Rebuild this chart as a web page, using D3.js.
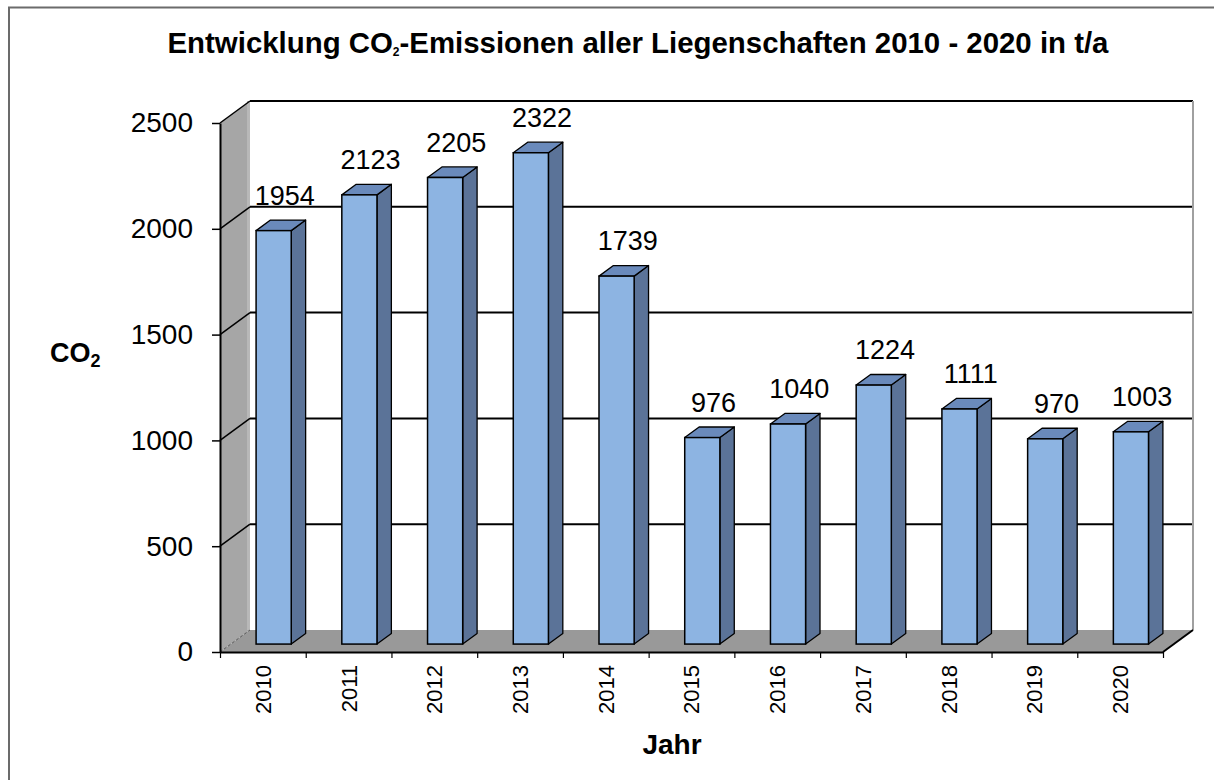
<!DOCTYPE html>
<html>
<head>
<meta charset="utf-8">
<script src="https://cdn.jsdelivr.net/npm/d3@7"></script>
<style>
  html, body { margin: 0; padding: 0; background: #ffffff; }
  svg { display: block; font-family: "Liberation Sans", Arial, sans-serif; }
</style>
</head>
<body>
<svg id="chart" width="1214" height="780"></svg>
<script>
// Data
const years = ["2010", "2011", "2012", "2013", "2014", "2015", "2016", "2017", "2018", "2019", "2020"];
const emissions = [1954, 2123, 2205, 2322, 1739, 976, 1040, 1224, 1111, 970, 1003];
const yTicks = [0, 500, 1000, 1500, 2000, 2500];

const svg = d3.select("#chart");
const W = 1214, H = 780;

// Plot frame (front plane) and depth offset of the back wall
const plotLeft = 220, plotRight = 1163, plotBase = 652, plotTop = 123;
const DX = 30, DY = -22;
const f1 = 0.36, f2 = 0.84;           // bar front / back depth fractions

const y = d3.scaleLinear().domain([0, 2500]).range([plotBase, plotTop]);
const x = d3.scaleBand().domain(years).range([plotLeft, plotRight]).paddingInner(0.59).paddingOuter(0.295);
const pts = a => a.map(p => p.join(",")).join(" ");

// Outer frame (top and left edges)
svg.append("path")
  .attr("d", `M9,${H} V7.5 H${W}`)
  .attr("fill", "none").attr("stroke", "#6b6b6b").attr("stroke-width", 2);

// Title
const title = svg.append("text")
  .attr("x", 638).attr("y", 53)
  .attr("text-anchor", "middle")
  .attr("font-size", 29.4).attr("font-weight", "bold").attr("fill", "#000");
title.append("tspan").text("Entwicklung CO");
title.append("tspan").attr("font-size", 12).attr("dy", 3).text("2");
title.append("tspan").attr("dy", -3).text("-Emissionen aller Liegenschaften 2010 - 2020 in t/a");

// Left side wall
svg.append("polygon")
  .attr("points", pts([[plotLeft, plotBase], [plotLeft + DX, plotBase + DY], [plotLeft + DX, plotTop + DY], [plotLeft, plotTop]]))
  .attr("fill", "#a6a6a6");
svg.append("line")
  .attr("x1", plotLeft + DX - 1.5).attr("x2", plotLeft + DX - 1.5)
  .attr("y1", plotTop + DY).attr("y2", plotBase + DY)
  .attr("stroke", "#b8b8b8").attr("stroke-width", 3);

// Floor
svg.append("polygon")
  .attr("points", pts([[plotLeft, plotBase], [plotRight, plotBase], [plotRight + DX, plotBase + DY], [plotLeft + DX, plotBase + DY]]))
  .attr("fill", "#999999");

// Back wall gridlines
svg.append("g").selectAll("line").data(yTicks.filter(v => v > 0)).join("line")
  .attr("x1", plotLeft + DX).attr("x2", plotRight + DX)
  .attr("y1", d => y(d) + DY).attr("y2", d => y(d) + DY)
  .attr("stroke", "#000").attr("stroke-width", 2);

// Side wall gridlines
svg.append("g").selectAll("line").data(yTicks).join("line")
  .attr("x1", plotLeft).attr("x2", plotLeft + DX)
  .attr("y1", d => y(d)).attr("y2", d => y(d) + DY)
  .attr("stroke", d => d === 0 ? "#555" : "#000")
  .attr("stroke-width", d => d === 0 ? 1 : 1.5)
  .attr("stroke-dasharray", d => d === 0 ? "3,2" : null);

// Right edge of back wall
svg.append("line")
  .attr("x1", plotRight + DX).attr("x2", plotRight + DX)
  .attr("y1", plotTop + DY).attr("y2", plotBase + DY)
  .attr("stroke", "#a0a0a0").attr("stroke-width", 2);

// Floor right edge
svg.append("line")
  .attr("x1", plotRight).attr("y1", plotBase).attr("x2", plotRight + DX).attr("y2", plotBase + DY)
  .attr("stroke", "#000").attr("stroke-width", 2);

// Bars (3D columns)
const bw = x.bandwidth();
const ox = f1 * DX, oy = f1 * DY;
const ddx = (f2 - f1) * DX, ddy = (f2 - f1) * DY;
const bars = svg.append("g").selectAll("g").data(years.map((yr, i) => ({ yr, v: emissions[i] }))).join("g");

bars.each(function (d) {
  const g = d3.select(this);
  const bx = x(d.yr) + ox, yt = y(d.v) + oy, yb = y(0) + oy;
  g.append("polygon")
    .attr("points", pts([[bx + bw, yt], [bx + bw + ddx, yt + ddy], [bx + bw + ddx, yb + ddy], [bx + bw, yb]]))
    .attr("fill", "#5b7398").attr("stroke", "#000").attr("stroke-width", 1.3).attr("stroke-linejoin", "round");
  g.append("polygon")
    .attr("points", pts([[bx, yt], [bx + ddx, yt + ddy], [bx + bw + ddx, yt + ddy], [bx + bw, yt]]))
    .attr("fill", "#6a8abb").attr("stroke", "#000").attr("stroke-width", 1.3).attr("stroke-linejoin", "round");
  g.append("rect")
    .attr("x", bx).attr("y", yt).attr("width", bw).attr("height", yb - yt)
    .attr("fill", "#8db4e2").attr("stroke", "#000").attr("stroke-width", 1.5);
});

// Value labels
bars.append("text")
  .attr("x", d => x(d.yr) + bw / 2 + 22)
  .attr("y", d => y(d.v) + oy - 26)
  .attr("text-anchor", "middle")
  .attr("font-size", 27).attr("fill", "#000")
  .text(d => d.v);

// Y axis
const yAxis = svg.append("g")
  .attr("transform", `translate(${plotLeft},0)`)
  .call(d3.axisLeft(y).tickValues(yTicks).tickFormat(d3.format("d")).tickSize(8).tickSizeOuter(0).tickPadding(19));
yAxis.select(".domain").attr("stroke", "#000").attr("stroke-width", 2);
yAxis.selectAll(".tick line").attr("stroke", "#000").attr("stroke-width", 1.5);
yAxis.selectAll(".tick text").attr("font-size", 28).attr("font-family", "Liberation Sans, Arial, sans-serif").attr("fill", "#000");

// X axis front edge, boundary ticks and labels
const edge = d3.scaleLinear().domain([0, years.length]).range([plotLeft, plotRight]);
const xAxis = svg.append("g").attr("transform", `translate(0,${plotBase})`)
  .call(d3.axisBottom(edge).tickValues(d3.range(0, years.length + 1)).tickSize(6).tickSizeOuter(0).tickFormat(""));
xAxis.select(".domain").attr("stroke", "#000").attr("stroke-width", 2);
xAxis.selectAll(".tick line").attr("stroke", "#000").attr("stroke-width", 1.2);

svg.append("g").selectAll("text").data(years).join("text")
  .attr("transform", d => `translate(${x(d) + bw / 2},665) rotate(-90)`)
  .attr("text-anchor", "end").attr("dy", "0.36em")
  .attr("font-size", 22).attr("fill", "#000")
  .text(d => d);

// Axis titles
const yTitle = svg.append("text")
  .attr("x", 50).attr("y", 362)
  .attr("font-size", 27).attr("font-weight", "bold").attr("fill", "#000");
yTitle.append("tspan").text("CO");
yTitle.append("tspan").attr("font-size", 18).attr("dy", 5).text("2");

svg.append("text")
  .attr("x", 672).attr("y", 754)
  .attr("text-anchor", "middle")
  .attr("font-size", 28).attr("font-weight", "bold").attr("fill", "#000")
  .text("Jahr");
</script>
</body>
</html>
